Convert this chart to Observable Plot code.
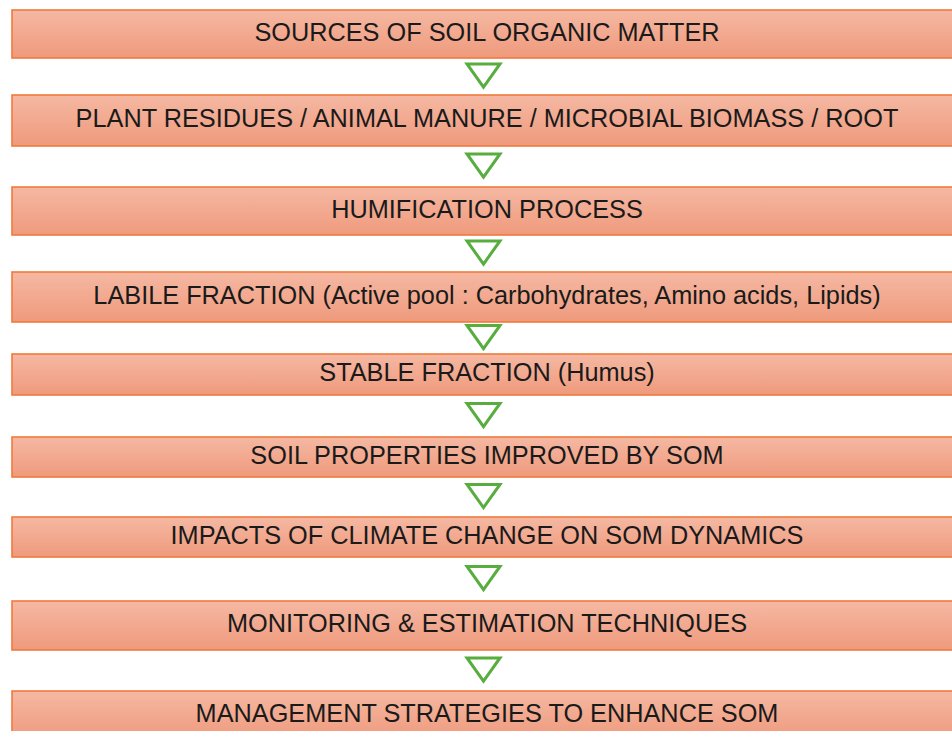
<!DOCTYPE html>
<html>
<head>
<meta charset="utf-8">
<script src="https://cdn.jsdelivr.net/npm/d3@7"></script>
<script src="https://cdn.jsdelivr.net/npm/@observablehq/plot@0.6"></script>
<style>
  html, body { margin: 0; padding: 0; background: #fff; }
  #chart svg { display: block; }
</style>
</head>
<body>
<div id="chart"></div>
<script>
// Flow steps (top to bottom)
const steps = [
  "SOURCES OF SOIL ORGANIC MATTER",
  "PLANT RESIDUES / ANIMAL MANURE / MICROBIAL BIOMASS / ROOT",
  "HUMIFICATION PROCESS",
  "LABILE FRACTION (Active pool : Carbohydrates, Amino acids, Lipids)",
  "STABLE FRACTION (Humus)",
  "SOIL PROPERTIES IMPROVED BY SOM",
  "IMPACTS OF CLIMATE CHANGE ON SOM DYNAMICS",
  "MONITORING & ESTIMATION TECHNIQUES",
  "MANAGEMENT STRATEGIES TO ENHANCE SOM"
];
// Vertical extent of each step box, in layout units
const boxTop    = [10, 95, 187, 272, 354, 437, 517, 601, 691];
const boxBottom = [58, 146, 235, 322, 395, 477, 557, 650, 740];

const boxes = steps.map((label, i) => ({label, top: boxTop[i], bottom: boxBottom[i], mid: (boxTop[i] + boxBottom[i]) / 2}));
const arrows = steps.slice(1).map((_, i) => ({y: (boxBottom[i] + boxTop[i + 1]) / 2}));

const downTriangle = {
  draw(context, size) {
    const r = Math.sqrt(size / Math.PI);
    context.moveTo(-r, -0.7 * r);
    context.lineTo(r, -0.7 * r);
    context.lineTo(0, 0.7 * r);
    context.closePath();
  }
};

const plot = Plot.plot({
  width: 952,
  height: 731,
  marginLeft: 12,
  marginRight: -9,
  marginTop: 0,
  marginBottom: 0,
  style: {background: "#fff", fontFamily: "'Liberation Sans', Arial, sans-serif"},
  x: {domain: [0, 1], axis: null},
  y: {domain: [0, 731], reverse: true, axis: null},
  marks: [
    Plot.rectY(boxes, {x1: 0, x2: 1, y1: "top", y2: "bottom", fill: "url(#boxgrad)", stroke: "#f07a3e", strokeWidth: 1.6}),
    Plot.text(boxes, {x: 0.5, y: "mid", text: "label", fontSize: 25.3, fill: "#1a1a1a", dy: -2, fontFamily: "'Liberation Sans', Arial, sans-serif"}),
    Plot.dot(arrows, {x: 0.5, y: "y", dx: -3.5, dy: -1.5, r: 16.5, symbol: downTriangle, fill: "#fff", stroke: "#58ad3f", strokeWidth: 3})
  ]
});

const svgNS = "http://www.w3.org/2000/svg";
const defs = document.createElementNS(svgNS, "defs");
defs.innerHTML = `<linearGradient id="boxgrad" x1="0" y1="0" x2="0" y2="1">
  <stop offset="0%" stop-color="#f5b8a3"/>
  <stop offset="100%" stop-color="#ef9a7c"/>
</linearGradient>`;
plot.insertBefore(defs, plot.firstChild);
document.getElementById("chart").appendChild(plot);
</script>
</body>
</html>
